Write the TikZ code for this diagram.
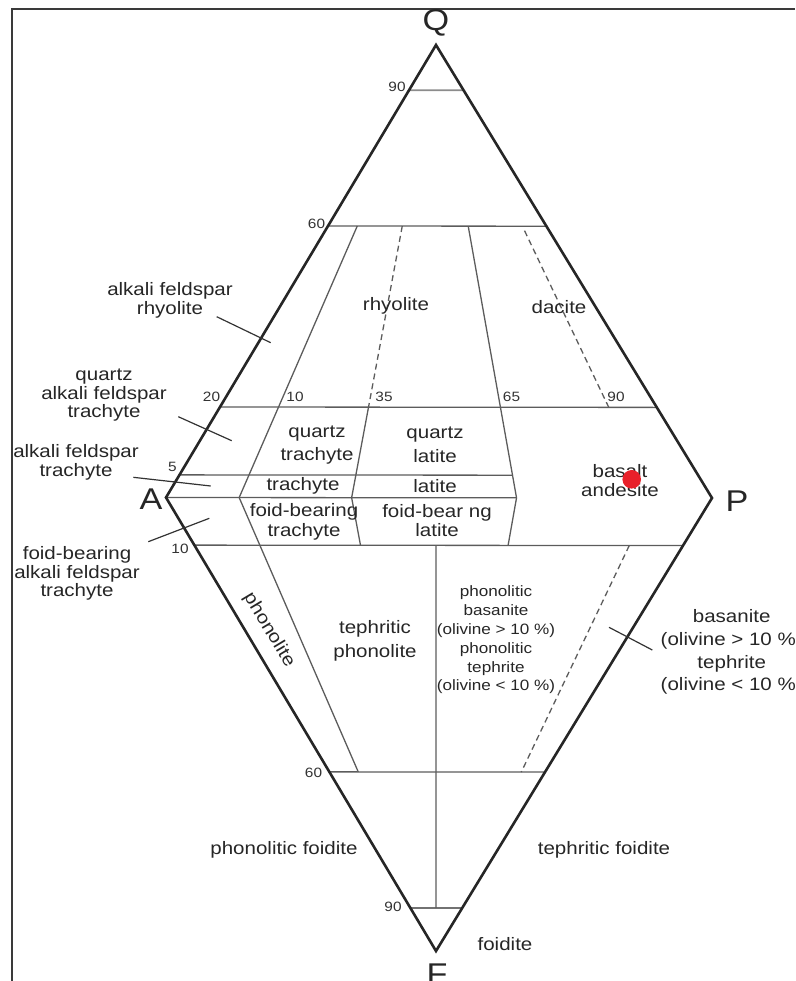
\documentclass[tikz,border=0pt]{standalone}
\usepackage{fontspec}
\setmainfont{Liberation Sans}[FakeStretch=1.14]
\usetikzlibrary{calc}
\definecolor{frame-grey}{HTML}{3A3A3A}
\definecolor{line-grey}{HTML}{5C5C5C}
\definecolor{dot-red}{HTML}{E8202A}
\tikzset{
  % The 'edge-line' style is the thick dark outline of the double triangle
  edge-line/.style={draw=black!85, line width=2.6pt, line join=miter},
  % The 'field-line' style separates the rock fields inside
  field-line/.style={draw=line-grey, line width=1.3pt},
  % The 'field-dashed' style is the same line, dashed
  field-dashed/.style={field-line, dash pattern=on 6pt off 4pt},
  % The 'leader' style is the short tick from an outside name into its field
  leader/.style={draw=black!80, line width=1.2pt},
  % The 'field-text' style is for the rock names
  field-text/.style={font=\fontsize{18}{19}\selectfont, align=center, inner sep=0pt, text=black!85},
  % The 'wide-text' style is for names with a wider line gap
  wide-text/.style={field-text, font=\fontsize{18}{23.5}\selectfont},
  % The 'small-text' style is for the small names in the lower middle field
  small-text/.style={field-text, font=\fontsize{15}{18.8}\selectfont},
  % The 'tick-text' style is for the percentages along the lines
  tick-text/.style={font=\fontsize{13.5}{14}\selectfont, inner sep=0pt, text=black!80},
  % The 'corner-text' style is for the four corner letters
  corner-text/.style={font=\fontsize{30}{30}\selectfont, inner sep=0pt, text=black!85}
}

\begin{document}
\begin{tikzpicture}[x=1pt, y=-1pt]
  \useasboundingbox (0,0) rectangle (795,981);

  % Frame round the page (only top and left side are seen)
  \draw[draw=frame-grey, line width=2pt] (12,981) -- (12,9) -- (795,9);

  % Corners of the diagram
  \coordinate (apex-q) at (436,45);
  \coordinate (corner-a) at (166,497.5);
  \coordinate (corner-p) at (712,498);
  \coordinate (apex-f) at (436,951);

  % Feet of the P/(A+P) lines on the A-P line
  \coordinate (foot-10) at ($(corner-a)!0.134!(corner-p)$);
  \coordinate (foot-35) at ($(corner-a)!0.340!(corner-p)$);
  \coordinate (foot-50) at ($(corner-a)!0.4945!(corner-p)$);
  \coordinate (foot-65) at ($(corner-a)!0.642!(corner-p)$);
  \coordinate (foot-90) at ($(corner-a)!0.890!(corner-p)$);

  % Horizontal lines of the upper triangle
  \draw[draw=black!45, line width=1.8pt] ($(corner-a)!0.9!(apex-q)$) -- ($(corner-p)!0.9!(apex-q)$);
  \draw[field-line] ($(corner-a)!0.6!(apex-q)$) -- ($(corner-p)!0.6!(apex-q)$);
  \draw[field-line] ($(corner-a)!0.2!(apex-q)$) -- ($(corner-p)!0.2!(apex-q)$);
  \draw[field-line] ($(corner-a)!0.05!(apex-q)$) -- ($(foot-65)!0.05!(apex-q)$);
  \draw[field-line] (corner-a) -- (foot-65);

  % Horizontal lines of the lower triangle
  \draw[field-line] ($(corner-a)!0.105!(apex-f)$) -- ($(corner-p)!0.105!(apex-f)$);
  \draw[field-line] ($(corner-a)!0.605!(apex-f)$) -- ($(corner-p)!0.605!(apex-f)$);
  \draw[field-line, draw=black!85] ($(corner-a)!0.905!(apex-f)$) -- ($(corner-p)!0.905!(apex-f)$);

  % Lines of constant P/(A+P)
  \draw[field-line] ($(foot-10)!0.6!(apex-q)$) -- (foot-10) -- ($(foot-10)!0.605!(apex-f)$);
  \draw[field-dashed] ($(foot-35)!0.6!(apex-q)$) -- ($(foot-35)!0.2!(apex-q)$);
  \draw[field-line] ($(foot-35)!0.2!(apex-q)$) -- (foot-35) -- ($(foot-35)!0.105!(apex-f)$);
  \draw[field-line] ($(foot-50)!0.105!(apex-f)$) -- ($(foot-50)!0.905!(apex-f)$);
  \draw[field-line] ($(foot-65)!0.6!(apex-q)$) -- (foot-65) -- ($(foot-65)!0.105!(apex-f)$);
  \draw[field-dashed] ($(foot-90)!0.59!(apex-q)$) -- ($(foot-90)!0.2!(apex-q)$);
  \draw[field-dashed] ($(foot-90)!0.105!(apex-f)$) -- ($(foot-90)!0.605!(apex-f)$);

  % Outline of the double triangle
  \draw[edge-line] (apex-q) -- (corner-p) -- (apex-f) -- (corner-a) -- cycle;

  % Corner letters
  \node[corner-text] at (436,23) (label-q) {Q};
  \node[corner-text] at (151,499) (label-a) {A};
  \node[corner-text] at (737,501) (label-p) {P};
  \node[corner-text] at (437,974) (label-f) {F};

  % Percentages
  \node[tick-text] at (397,87) (q-90) {90};
  \node[tick-text] at (316.5,224) (q-60) {60};
  \node[tick-text] at (211.5,397) (q-20) {20};
  \node[tick-text] at (295,397) (p-10) {10};
  \node[tick-text] at (384,397) (p-35) {35};
  \node[tick-text] at (511.5,397) (p-65) {65};
  \node[tick-text] at (616,397) (p-90) {90};
  \node[tick-text] at (172.5,467) (q-5) {5};
  \node[tick-text] at (180,549) (f-10) {10};
  \node[tick-text] at (313.5,773) (f-60) {60};
  \node[tick-text] at (393,907) (f-90) {90};

  % Rock names inside the fields
  \node[field-text] at (396,306) (rhyolite) {rhyolite};
  \node[field-text] at (559,307) (dacite) {dacite};
  \node[wide-text] at (317,445) (qz-trachyte) {quartz\\trachyte};
  \node[wide-text] at (435,445) (qz-latite) {quartz\\latite};
  \node[field-text] at (303,486) (trachyte) {trachyte};
  \node[field-text] at (435,486.5) (latite) {latite};
  \node[field-text] at (620,481) (basalt-andesite) {basalt\\andesite};
  \node[field-text, font=\fontsize{18}{20}\selectfont] at (304,522) (fb-trachyte) {foid-bearing\\trachyte};
  \node[field-text] at (437,521) (fb-latite) {foid-bear ng\\latite};
  \node[field-text, rotate=-59] at (269,630) (phonolite) {phonolite};
  \node[wide-text] at (375,641) (teph-phonolite) {tephritic\\phonolite};
  \node[small-text] at (496,640) (phon-basanite) {phonolitic\\basanite\\(olivine > 10 \%)\\phonolitic\\tephrite\\(olivine < 10 \%)};
  \node[field-text] at (284,850) (phon-foidite) {phonolitic foidite};
  \node[field-text] at (604,850) (teph-foidite) {tephritic foidite};
  \node[field-text] at (505,944) (foidite) {foidite};

  % Sample point
  \node[circle, fill=dot-red, minimum size=18.6pt, inner sep=0pt] at (631.7,479.3) (sample-dot) {};

  % Rock names outside the diagram, with their leaders
  \node[field-text] at (170,300.5) (afs-rhyolite) {alkali feldspar\\rhyolite};
  \node[field-text, font=\fontsize{18}{18.5}\selectfont] at (104,395.5) (qz-afs-trachyte) {quartz\\alkali feldspar\\trachyte};
  \node[field-text] at (76,462) (afs-trachyte) {alkali feldspar\\trachyte};
  \node[field-text, font=\fontsize{18}{18.5}\selectfont] at (77,573.5) (fb-afs-trachyte) {foid-bearing\\alkali feldspar\\trachyte};
  \node[wide-text, font=\fontsize{18}{22.7}\selectfont] at (731.7,652) (basanite) {basanite\\(olivine > 10 \%\phantom{)}\\tephrite\\(olivine < 10 \%\phantom{)}};

  \coordinate (afs-rhyolite-from) at (216.7,316.7);
  \coordinate (afs-rhyolite-to) at (270.7,342.7);
  \coordinate (qz-afs-trachyte-from) at (178.3,416.7);
  \coordinate (qz-afs-trachyte-to) at (231.7,440.7);
  \coordinate (afs-trachyte-from) at (133.3,477.3);
  \coordinate (afs-trachyte-to) at (210.7,486);
  \coordinate (fb-afs-trachyte-from) at (148.3,541.7);
  \coordinate (fb-afs-trachyte-to) at (209.3,518.3);
  \coordinate (basanite-from) at (652.3,650);
  \coordinate (basanite-to) at (609,627.3);

  \draw[leader] (afs-rhyolite-from) -- (afs-rhyolite-to);
  \draw[leader] (qz-afs-trachyte-from) -- (qz-afs-trachyte-to);
  \draw[leader] (afs-trachyte-from) -- (afs-trachyte-to);
  \draw[leader] (fb-afs-trachyte-from) -- (fb-afs-trachyte-to);
  \draw[leader] (basanite-from) -- (basanite-to);

\end{tikzpicture}
\end{document}
